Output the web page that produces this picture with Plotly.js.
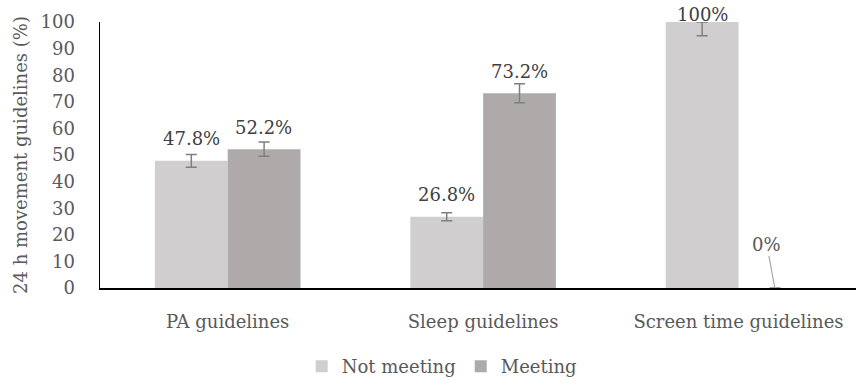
<!DOCTYPE html>
<html>
<head>
<meta charset="utf-8">
<script src="https://cdn.plot.ly/plotly-3.0.1.min.js"></script>
<style>
  html, body { margin: 0; padding: 0; background: #fff; }
  #chart { width: 856px; height: 385px; }
</style>
</head>
<body>
<div id="chart"></div>
<script>
// Share of children meeting each 24 h movement guideline
const categories = ['PA guidelines', 'Sleep guidelines', 'Screen time guidelines'];
const notMeeting = [47.8, 26.8, 100];
const meeting = [52.2, 73.2, 0];
const notMeetingErrPlus = [2.4, 1.5, 0];
const notMeetingErrMinus = [2.4, 1.5, 5.2];
const meetingErrPlus = [2.7, 3.6, 0];
const meetingErrMinus = [2.7, 3.6, 0];
const yTicks = [0, 10, 20, 30, 40, 50, 60, 70, 80, 90, 100];

const FONT = 'DejaVu Serif';
const FS = 18;
const errStyle = { color: '#7f7f7f', thickness: 1.5, width: 5.5 };

const traces = [
  {
    type: 'bar', name: 'Not meeting', x: categories, y: notMeeting,
    marker: { color: '#d0cece' },
    error_y: Object.assign({ type: 'data', symmetric: false, array: notMeetingErrPlus, arrayminus: notMeetingErrMinus }, errStyle),
    hoverinfo: 'skip'
  },
  {
    type: 'bar', name: 'Meeting', x: categories, y: meeting,
    marker: { color: '#aeaaaa' },
    error_y: Object.assign({ type: 'data', symmetric: false, array: meetingErrPlus, arrayminus: meetingErrMinus }, errStyle),
    hoverinfo: 'skip'
  }
];

// value labels above each bar (offset to the bar's slot inside its group)
const halfSlot = 0.142;
const annotations = [];
function fmt(v) { return (Number.isInteger(v) ? v : v.toFixed(1)) + '%'; }
categories.forEach((c, i) => {
  const nm = notMeeting[i];
  annotations.push({
    x: i - halfSlot, y: nm, xref: 'x', yref: 'y', text: fmt(nm), showarrow: false,
    yanchor: 'middle', yshift: nm >= 100 ? 8 : 22,
    font: { family: FONT, size: FS, color: '#404040' }
  });
  const m = meeting[i];
  if (m > 0) {
    annotations.push({
      x: i + halfSlot, y: m, xref: 'x', yref: 'y', text: fmt(m), showarrow: false,
      yanchor: 'middle', yshift: 22,
      font: { family: FONT, size: FS, color: '#404040' }
    });
  } else {
    annotations.push({
      x: i + halfSlot, y: m, xref: 'x', yref: 'y', text: fmt(m), showarrow: true,
      arrowhead: 0, arrowwidth: 1.2, arrowcolor: '#a6a6a6', ax: -8, ay: -44, standoff: 0,
      font: { family: FONT, size: FS, color: '#595959' }
    });
  }
});

const layout = {
  width: 856, height: 385,
  margin: { l: 100, r: 0, t: 22, b: 94 },
  paper_bgcolor: '#fff', plot_bgcolor: '#fff',
  font: { family: FONT, size: FS, color: '#595959' },
  barmode: 'group', bargap: 0.43, bargroupgap: 0,
  showlegend: true,
  legend: {
    orientation: 'h', x: 0.452, xanchor: 'center', y: -0.295, yanchor: 'middle',
    font: { family: FONT, size: FS, color: '#595959' }, itemwidth: 30, traceorder: 'normal'
  },
  xaxis: {
    type: 'category', range: [-0.5, 2.46], showgrid: false, zeroline: false,
    showline: true, linecolor: '#000', linewidth: 2,
    ticks: '', ticklabelstandoff: 16,
    tickfont: { family: FONT, size: FS, color: '#595959' }
  },
  yaxis: {
    range: [0, 100], tickvals: yTicks, ticktext: yTicks.map(String),
    showgrid: false, zeroline: false, showline: true, linecolor: '#000', linewidth: 1.5,
    ticks: '', ticklabelstandoff: 20,
    tickfont: { family: FONT, size: FS, color: '#595959' },
    title: { text: '24 h movement guidelines (%)', standoff: 8, font: { family: FONT, size: FS, color: '#595959' } }
  },
  annotations: annotations
};

Plotly.newPlot('chart', traces, layout, { displayModeBar: false, staticPlot: true });
</script>
</body>
</html>
